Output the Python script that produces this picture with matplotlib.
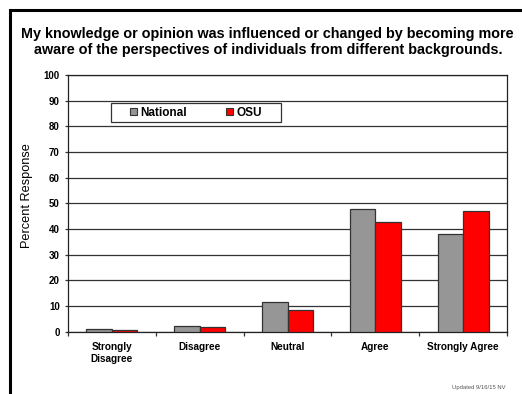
import matplotlib
matplotlib.use("Agg")
import matplotlib.pyplot as plt
import numpy as np
from matplotlib.patches import Rectangle

categories = ["Strongly\nDisagree", "Disagree", "Neutral", "Agree", "Strongly Agree"]
national = [1.0, 2.2, 11.7, 47.8, 37.9]
osu = [0.5, 1.7, 8.5, 42.6, 47.1]
series_names = ["National", "OSU"]
y_ticks = [0, 10, 20, 30, 40, 50, 60, 70, 80, 90, 100]

plt.rcParams["font.family"] = ["Liberation Sans", "DejaVu Sans"]

fig = plt.figure(figsize=(5.22, 3.94), dpi=100)
ax = fig.add_axes([0.1303, 0.158, 0.841, 0.6516])

x = np.arange(len(categories))
w = 0.29
ax.bar(x - w / 2, national, width=w, color="#969696", edgecolor="#333333",
       linewidth=0.9, label=series_names[0], zorder=3)
ax.bar(x + w / 2, osu, width=w, color="#ff0000", edgecolor="#333333",
       linewidth=0.9, label=series_names[1], zorder=3)

ax.set_xlim(-0.5, len(categories) - 0.5)
ax.set_ylim(0, 100)
ax.set_yticks(y_ticks)
ax.set_yticklabels([str(v) for v in y_ticks], fontsize=7, fontweight="bold")
ax.yaxis.grid(True, color="#333333", linewidth=0.9, zorder=0)
ax.set_axisbelow(True)

ax.set_xticks(x)
ax.set_xticklabels(categories, fontsize=7.2, fontweight="bold", linespacing=1.25)
ax.tick_params(axis="x", length=0, pad=7.5)
ax.set_xticks(np.arange(-0.5, len(categories) + 0.5, 1), minor=True)
ax.tick_params(axis="x", which="minor", length=3, width=0.9, color="#333333")
ax.tick_params(axis="y", length=2.5, width=0.9, color="#333333", pad=3.5)

for s in ax.spines.values():
    s.set_color("#222222")
    s.set_linewidth(0.9)

ax.set_ylabel("Percent Response", fontsize=9.2)
ax.yaxis.set_label_coords(-0.08, 0.53)

# legend frame drawn separately so it can be wider than the entries
ax.add_patch(Rectangle((0.098, 0.817), 0.387, 0.074, transform=ax.transAxes,
                       facecolor="white", edgecolor="#333333", linewidth=0.9,
                       zorder=4))
leg = ax.legend(loc="center", bbox_to_anchor=(0.2915, 0.854), ncol=2,
                prop={"weight": "bold", "size": 8.5},
                frameon=False,
                handlelength=0.6, handleheight=0.6, handletextpad=0.3,
                columnspacing=3.3, borderpad=0.2, borderaxespad=0)
leg.set_zorder(5)
for h in leg.legend_handles:
    h.set_linewidth(0.8)

fig.text(0.513, 0.894,
         "My knowledge or opinion was influenced or changed by becoming more\n"
         "aware of the perspectives of individuals from different backgrounds.",
         ha="center", va="center", fontsize=10.4, fontweight="bold",
         linespacing=1.2)

fig.text(0.968, 0.016, "Updated 9/16/15 NV", ha="right", va="center",
         fontsize=4.2, color="#555555")

fig.patches.append(Rectangle((10 / 522, -0.1), 1.2, 1 - 10.5 / 394 + 0.1,
                             transform=fig.transFigure, fill=False,
                             edgecolor="black", linewidth=2.2))

fig.savefig("out.png", dpi=100)
